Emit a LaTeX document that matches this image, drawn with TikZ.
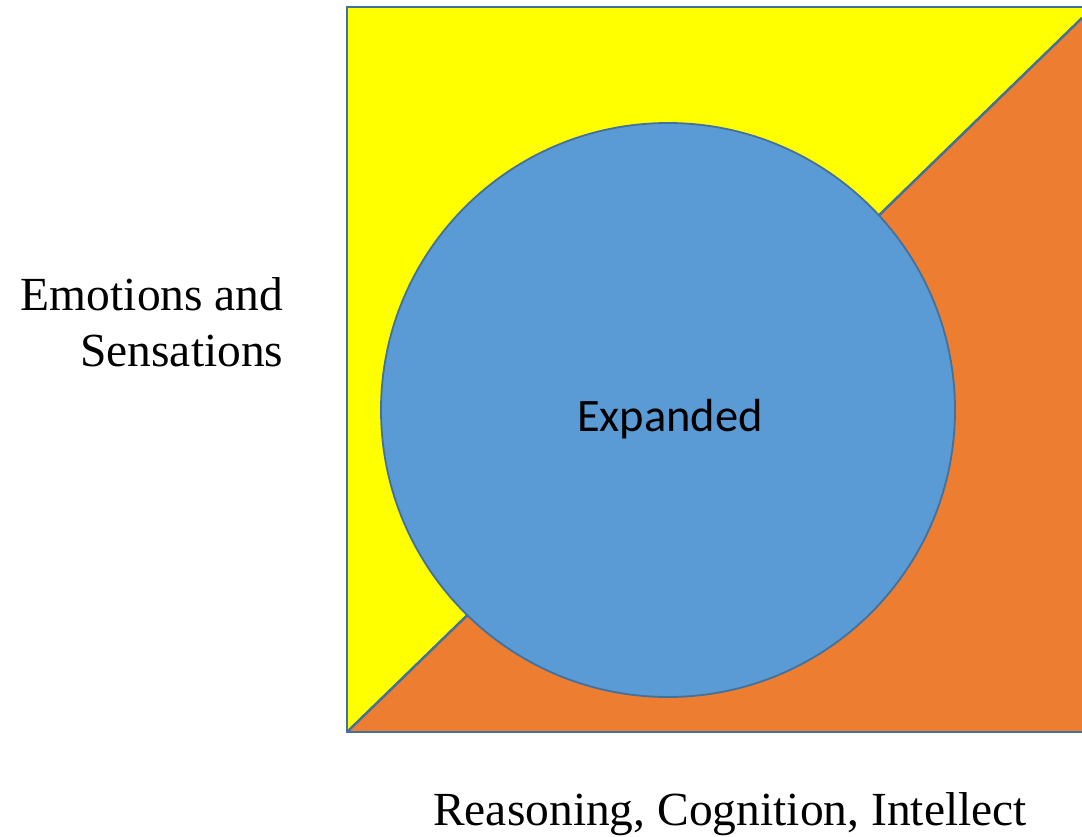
\documentclass[tikz,border=0pt]{standalone}
\usepackage{fontspec}
\setmainfont{Liberation Serif}
\newfontfamily\carlito{Carlito}
\definecolor{Y1}{RGB}{255,255,0}
\definecolor{O1}{RGB}{237,125,49}
\definecolor{B1}{RGB}{91,155,213}
\definecolor{E1}{RGB}{65,113,156}

\begin{document}
\begin{tikzpicture}[x=1pt,y=-1pt]
      \useasboundingbox (0,0) rectangle (1082,836);
      \coordinate (tl) at (347,7);
      \coordinate (tr) at (1082,7);
      \coordinate (br) at (1082,732);
      \coordinate (bl) at (347,732);
      \coordinate (dg) at (1082,18);
      \fill[Y1] (tl) rectangle (br);
      \fill[O1] (bl) -- (dg) -- (br) -- cycle;
      \draw[E1, line width=2.5pt] (bl) -- (dg);
      \draw[E1, line width=2.5pt] (tr) -- (tl) -- (bl) -- (br);
      \node[circle, fill=B1, draw=E1, line width=1.8pt, minimum size=574pt] (exp) at (668,410) {};
      \node[font=\carlito\fontsize{46.5}{55}\selectfont] (explbl) at (670,419) {Expanded};
      \node[anchor=east, align=right, font=\fontsize{47.5}{56}\selectfont] (emo) at (287,322) {Emotions and\\Sensations};
      \node[anchor=base, font=\fontsize{47.5}{56}\selectfont] (rea) at (730,825) {Reasoning, Cognition, Intellect};
    \end{tikzpicture}
\end{document}
